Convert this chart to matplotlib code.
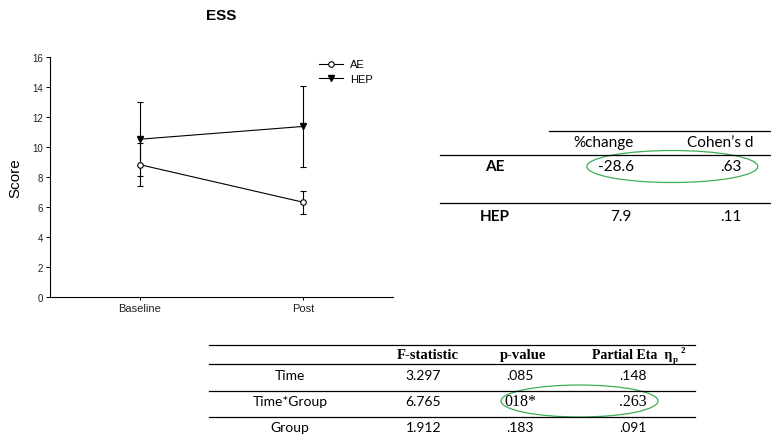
import matplotlib
matplotlib.use("Agg")
import matplotlib.pyplot as plt
from matplotlib.lines import Line2D
from matplotlib.patches import Ellipse

# ---- data ----
timepoints = ["Baseline", "Post"]
ae_mean = [8.8, 6.3]
ae_err = [1.45, 0.76]
hep_mean = [10.5, 11.35]
hep_err = [2.47, 2.67]
y_ticks = [0, 2, 4, 6, 8, 10, 12, 14, 16]

effect_groups = ["AE", "HEP"]
effect_headers = ["%change", "Cohen\u2019s d"]
pct_change = ["-28.6", "7.9"]
cohens_d = [".63", ".11"]

anova_effects = ["Time", "Time*Group", "Group"]
anova_headers = ["F-statistic", "p-value", "Partial Eta  \u03b7"]
f_stat = ["3.297", "6.765", "1.912"]
p_value = [".085", "018*", ".183"]
eta_sq = [".148", ".263", ".091"]

W, H = 771, 439
fig = plt.figure(figsize=(W / 100, H / 100), dpi=100)
fig.patch.set_facecolor("white")

sans = "Liberation Sans"
calibri = "Lato"
serif = "Liberation Serif"

# ---- line chart ----
L, R, T, B = 50, 393, 57.7, 297.7
ax = fig.add_axes([L / W, 1 - B / H, (R - L) / W, (B - T) / H])
x = list(range(len(timepoints)))
ax.errorbar(x, ae_mean, yerr=ae_err, color="black", lw=0.8, marker="o",
            ms=4, mfc="white", mec="black", mew=0.8, capsize=2.5,
            elinewidth=0.8, capthick=0.8, label="AE", zorder=3)
ax.errorbar(x, hep_mean, yerr=hep_err, color="black", lw=0.8, marker="v",
            ms=5, mfc="black", mec="black", capsize=2.5,
            elinewidth=0.8, capthick=0.8, label="HEP", zorder=3)
ax.set_xlim(-0.552, 1.552)
ax.set_ylim(0, 16)
ax.set_yticks(y_ticks)
ax.set_yticklabels([str(t) for t in y_ticks], fontsize=7, family=sans,
                   color="#222222")
ax.set_xticks(x)
ax.set_xticklabels(timepoints, fontsize=8, family=sans, color="#222222")
ax.tick_params(axis="y", direction="out", length=3, width=0.7, pad=2)
ax.tick_params(axis="x", direction="out", length=2.5, width=0.7, pad=2)
for s in ["top", "right"]:
    ax.spines[s].set_visible(False)
for s in ["left", "bottom"]:
    ax.spines[s].set_linewidth(0.8)
ax.set_ylabel("Score", fontsize=11, family=sans, labelpad=7)
ax.set_title("ESS", fontsize=11, fontweight="bold", family=sans, pad=27.5)

h, l = ax.get_legend_handles_labels()
h = [hh[0] for hh in h]
fig.legend(h, l, loc="upper left", bbox_to_anchor=(319 / W, 1 - 60.5 / H),
           frameon=False, prop={"family": sans, "size": 8},
           handlelength=2.2, handletextpad=0.6, labelspacing=0.4,
           borderaxespad=0, borderpad=0)

# ---- overlay for tables (pixel coordinates) ----
ov = fig.add_axes([0, 0, 1, 1], zorder=5)
ov.set_xlim(0, W)
ov.set_ylim(H, 0)
ov.axis("off")
ov.patch.set_alpha(0)

def hline(x0, x1, y, lw=0.9):
    ov.add_line(Line2D([x0, x1], [y, y], color="black", lw=lw))

# table 1
hline(549, 770, 131.7)
hline(440, 770, 155.7)
hline(440, 770, 204)
hdr1_x = [604, 720]
for hx, t in zip(hdr1_x, effect_headers):
    ov.text(hx, 143, t, ha="center", va="center", fontsize=11, family=calibri)
row1_y = [167, 217]
pc_x = [616, 621]
for i, g in enumerate(effect_groups):
    ov.text(494.5, row1_y[i], g, ha="center", va="center", fontsize=11,
            family=calibri, fontweight="bold")
    ov.text(pc_x[i], row1_y[i], pct_change[i], ha="center", va="center",
            fontsize=11, family=calibri)
    ov.text(730.5, row1_y[i], cohens_d[i], ha="center", va="center",
            fontsize=11, family=calibri)
ov.add_patch(Ellipse((672.3, 167.5), 171, 32, fill=False,
                     ec="#3cae55", lw=0.9))

# table 2
for yy in [346, 365, 391.7, 418]:
    hline(209, 695, yy)
hdr2_x = [428, 523, 592]
hdr_ha = ["center", "center", "left"]
hdr_fs = [10.5, 10.5, 10]
hdr_texts = []
for hx, t, ha, fs in zip(hdr2_x, anova_headers, hdr_ha, hdr_fs):
    hdr_texts.append(ov.text(hx, 356, t, ha=ha, va="center", fontsize=fs,
                             family=serif, fontweight="bold"))
fig.canvas.draw()
rend = fig.canvas.get_renderer()
bb = hdr_texts[-1].get_window_extent(rend)
eta_right = bb.x1  # display px (same as figure px at dpi 100)
ov.text(eta_right + 0.5, 360, "p", ha="left", va="center", fontsize=6.5,
        family=serif, fontweight="bold")
ov.text(eta_right + 8, 351.5, "2", ha="left", va="center", fontsize=6.5,
        family=serif, fontweight="bold")
row2_y = [376, 402, 428]
serif_cells = {(1, 1), (1, 2)}
for i, e in enumerate(anova_effects):
    ov.text(290, row2_y[i], e, ha="center", va="center", fontsize=10,
            family=calibri)
    ov.text(423.5, row2_y[i], f_stat[i], ha="center", va="center",
            fontsize=10, family=calibri)
    for j, (vals, cx) in enumerate([(p_value, 520), (eta_sq, 633)]):
        fam = serif if (i, j + 1) in serif_cells else calibri
        fs = 11.5 if fam == serif else 10
        ov.text(cx, row2_y[i], vals[i], ha="center", va="center",
                fontsize=fs, family=fam)
ov.add_patch(Ellipse((579.5, 402), 157, 32, fill=False,
                     ec="#3cae55", lw=0.9))

fig.savefig("out.png", dpi=100)
